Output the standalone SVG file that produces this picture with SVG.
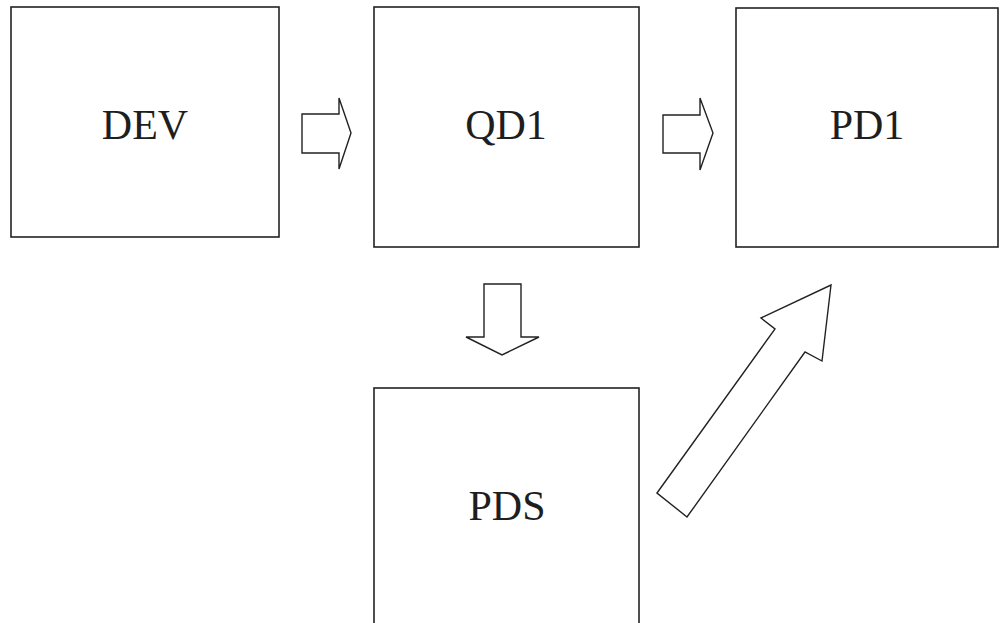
<svg xmlns="http://www.w3.org/2000/svg" width="1000" height="623" viewBox="0 0 1000 623">
  <style>
    .box { fill: #ffffff; stroke: #222222; stroke-width: 1.6; }
    .label { font-family: "Liberation Serif", "Times New Roman", serif; font-size: 42px; fill: #1e1e1e; text-anchor: middle; }
    .flow { fill: #ffffff; stroke: #222222; stroke-width: 1.4; stroke-linejoin: miter; }
  </style>
  <rect width="1000" height="623" fill="#ffffff"/>

  <g id="node-dev">
    <rect class="box" x="11" y="7" width="268" height="230"/>
    <text class="label" x="145" y="139">DEV</text>
  </g>

  <g id="node-qd1">
    <rect class="box" x="374" y="7" width="265" height="240"/>
    <text class="label" x="506" y="139">QD1</text>
  </g>

  <g id="node-pd1">
    <rect class="box" x="736" y="8" width="262" height="239"/>
    <text class="label" x="867" y="139">PD1</text>
  </g>

  <g id="node-pds">
    <rect class="box" x="374" y="388" width="265" height="250"/>
    <text class="label" x="507" y="520">PDS</text>
  </g>

  <g id="connectors">
    <!-- DEV to QD1 -->
    <polygon class="flow" points="302,114 339,114 339,98 351,133 339,169 339,153 302,153"/>
    <!-- QD1 to PD1 -->
    <polygon class="flow" points="663,115 700,115 700,98 713,133 700,170 700,153 663,153"/>
    <!-- QD1 to PDS -->
    <polygon class="flow" points="484,284 521,284 521,337 539,337 502,355 466,337 484,337"/>
    <!-- PDS to PD1 -->
    <polygon class="flow" points="657,493 775,329 761,318 831,285 822,361 805,352 687,517"/>
  </g>
</svg>
